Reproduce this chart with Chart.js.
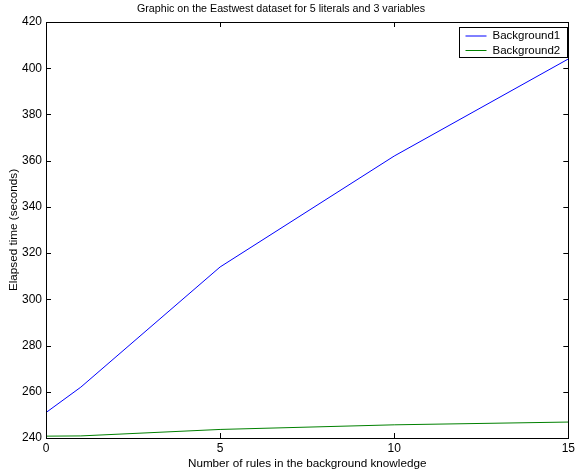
<!DOCTYPE html>
<html>
<head>
<meta charset="utf-8">
<script src="https://cdn.jsdelivr.net/npm/chart.js@4/dist/chart.umd.min.js"></script>
<style>
  html, body { margin: 0; padding: 0; background: #fff; }
  #wrap { width: 578px; height: 474px; }
</style>
</head>
<body>
<div id="wrap"><canvas id="chart"></canvas></div>
<script>
const rules = [0, 1, 5, 10, 15];
const background1 = [251, 262, 314, 362, 404];
const background2 = [240.8, 240.9, 243.7, 245.7, 246.9];
const seriesNames = ["Background1", "Background2"];
const seriesColors = ["#0000ff", "#008000"];
const xTicks = [0, 5, 10, 15];
const yTicks = [240, 260, 280, 300, 320, 340, 360, 380, 400, 420];

const FONT = "Liberation Sans, Arial, Helvetica, sans-serif";

// matlab style box, inward ticks, title and legend
const matlabFrame = {
  id: 'matlabFrame',
  afterDraw(chart) {
    const {ctx, chartArea: a, scales} = chart;
    ctx.save();
    ctx.strokeStyle = '#000';
    ctx.lineWidth = 1;
    ctx.strokeRect(Math.round(a.left) + 0.5, Math.round(a.top) + 0.5,
      Math.round(a.right - a.left), Math.round(a.bottom - a.top));
    ctx.beginPath();
    xTicks.forEach(v => {
      const x = Math.round(scales.x.getPixelForValue(v)) + 0.5;
      ctx.moveTo(x, a.bottom); ctx.lineTo(x, a.bottom - 5);
      ctx.moveTo(x, a.top); ctx.lineTo(x, a.top + 5);
    });
    yTicks.forEach(v => {
      const y = Math.round(scales.y.getPixelForValue(v)) + 0.5;
      ctx.moveTo(a.left, y); ctx.lineTo(a.left + 5, y);
      ctx.moveTo(a.right, y); ctx.lineTo(a.right - 5, y);
    });
    ctx.stroke();

    ctx.fillStyle = '#000';
    ctx.font = '10.7px ' + FONT;
    ctx.textAlign = 'center';
    ctx.textBaseline = 'middle';
    ctx.fillText('Graphic on the Eastwest dataset for 5 literals and 3 variables', 281, 9);

    // legend box
    const bx = 459.5, by = 27.5, bw = 108, bh = 30;
    ctx.fillStyle = '#fff';
    ctx.fillRect(bx, by, bw, bh);
    ctx.strokeRect(bx, by, bw, bh);
    ctx.textAlign = 'left';
    ctx.font = '11.5px ' + FONT;
    chart.data.datasets.forEach((ds, i) => {
      const y = by + 8.5 + i * 14.5;
      ctx.strokeStyle = ds.borderColor;
      ctx.beginPath();
      ctx.moveTo(bx + 6, y); ctx.lineTo(bx + 27, y);
      ctx.stroke();
      ctx.fillStyle = '#000';
      ctx.fillText(ds.label, bx + 33, y);
    });
    ctx.restore();
  }
};

new Chart(document.getElementById('chart'), {
  type: 'line',
  data: {
    datasets: seriesNames.map((name, i) => ({
      label: name,
      data: rules.map((r, j) => ({x: r, y: [background1, background2][i][j]})),
      borderColor: seriesColors[i],
      borderWidth: 1,
      pointRadius: 0,
      tension: 0,
      fill: false
    }))
  },
  options: {
    responsive: true,
    maintainAspectRatio: false,
    animation: false,
    layout: { padding: { top: 22, right: 4, left: 0, bottom: 0 } },
    plugins: { legend: { display: false }, tooltip: { enabled: false } },
    scales: {
      x: {
        type: 'linear', min: 0, max: 15,
        afterBuildTicks: s => { s.ticks = xTicks.map(v => ({value: v})); },
        afterFit: s => { s.height = 36; },
        grid: { display: false, drawTicks: false },
        border: { display: false },
        ticks: { color: '#000', font: { family: FONT, size: 12 }, padding: 3, maxRotation: 0 },
        title: { display: true, text: 'Number of rules in the background knowledge', color: '#000',
          font: { family: FONT, size: 11.7 }, padding: { top: 0, bottom: 3 } }
      },
      y: {
        type: 'linear', min: 240, max: 420,
        afterBuildTicks: s => { s.ticks = yTicks.map(v => ({value: v})); },
        afterFit: s => { s.width = 46; },
        grid: { display: false, drawTicks: false },
        border: { display: false },
        ticks: { color: '#000', font: { family: FONT, size: 12 }, padding: 4 },
        title: { display: true, text: 'Elapsed time (seconds)', color: '#000',
          font: { family: FONT, size: 11.7 }, padding: { top: 7, bottom: 0 } }
      }
    }
  },
  plugins: [matlabFrame]
});
</script>
</body>
</html>
